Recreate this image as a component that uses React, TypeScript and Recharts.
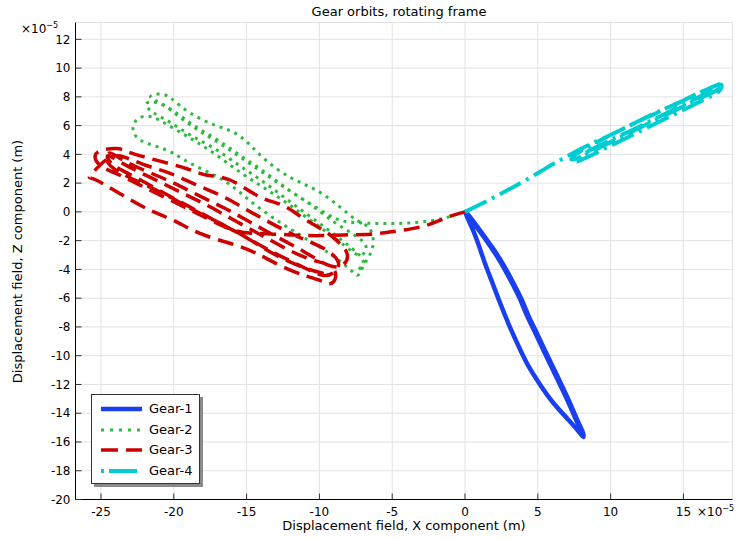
import React from "react";
import { ScatterChart, Scatter, XAxis, YAxis, CartesianGrid } from "recharts";

// axis ticks (values in units of 1e-5 m)
const xTicks = [-25, -20, -15, -10, -5, 0, 5, 10, 15];
const zTicks = [-20, -18, -16, -14, -12, -10, -8, -6, -4, -2, 0, 2, 4, 6, 8, 10, 12];

const gearNames = ["Gear-1", "Gear-2", "Gear-3", "Gear-4"];

// Gear-1 orbit
const gear1X = [0, 0.9, 1.75, 2.5, 3.15, 3.75, 4.25, 4.82, 5.38, 5.95, 6.52, 7.08, 7.6, 7.98, 8.13,
  7.75, 7.05, 6.0, 5.15, 4.4, 3.8, 3.25, 2.75, 2.28, 1.83, 1.38, 0.97, 0.52, 0.05,
  1.0, 1.86, 2.62, 3.27, 3.87, 4.37, 4.94, 5.5, 6.07, 6.64, 7.19, 7.7, 8.06, 8.15];
const gear1Z = [0, -1.2, -2.4, -3.6, -4.8, -6.0, -7.2, -8.4, -9.6, -10.8, -12.0, -13.2, -14.4, -15.2, -15.65,
  -15.2, -14.4, -13.2, -12.0, -10.8, -9.6, -8.4, -7.2, -6.0, -4.8, -3.6, -2.4, -1.2, 0,
  -1.25, -2.45, -3.65, -4.85, -6.05, -7.25, -8.45, -9.65, -10.85, -12.05, -13.25, -14.45, -15.25, -15.6];

// Gear-2 orbit
const gear2X = [0, -1.5, -3, -4.5, -6, -7.5, -8.8,
  -10.2, -11.8, -13.4, -15, -16.6, -18.2, -19.6, -20.8, -21.6, -21.0, -20.2,
  -18.9, -17.1, -15.5, -13.9, -12.0, -10.2, -8.6, -7.4, -6.6, -6.3, -6.5, -7.0, -7.35,
  -7.9, -9.3, -11.1, -12.9, -14.8, -16.6, -18.9, -20.5, -22.3, -22.8, -22.4, -21.5,
  -20.0, -18.5, -17, -15.5, -14, -12.5, -11, -9.5, -8.2, -7.2, -6.8,
  -7.6, -9.0, -10.6, -12.2, -13.8, -15.4, -17.0, -18.6, -20.0, -21.2, -21.9, -21.4,
  -20.2, -18.8, -17.2, -15.6, -14, -12.4, -10.8, -9.2, -7.8, -7.0, -7.3];
const gear2Z = [0, -0.45, -0.7, -0.8, -0.8, -0.75, -0.5,
  0.3, 1.3, 2.4, 3.5, 4.6, 5.6, 6.6, 7.5, 8.0, 8.2, 7.9,
  6.9, 6.0, 5.3, 3.8, 2.4, 1.5, 0.35, -0.6, -1.1, -2.0, -2.9, -3.8, -4.4,
  -4.0, -2.9, -1.75, -0.6, 0.8, 2.2, 3.4, 4.3, 5.0, 5.9, 6.5, 6.6,
  5.8, 4.9, 3.9, 2.8, 1.8, 0.8, -0.3, -1.4, -2.4, -3.0, -2.4,
  -1.6, -0.7, 0.5, 1.6, 2.8, 3.9, 5.0, 6.0, 7.0, 7.6, 7.5, 6.9,
  6.2, 5.3, 4.4, 3.3, 2.2, 1.0, -0.2, -1.4, -2.5, -3.4, -4.0];

// Gear-3 orbit
const gear3X = [0, -1.0, -2.4, -3.8, -5.2, -6.5, -8.3, -10.0, -12.0, -14.0, -15.8,
  -17.8, -19.8, -21.8, -23.6, -25.0, -25.4, -24.9, -23.9, -23.2,
  -22.3, -21.2, -19.1, -17.7, -16.1, -14.1, -12.5, -11.1, -9.7, -8.8, -8.1, -8.4,
  -9.4, -11, -12.8, -14.6, -16.4, -18.2, -20.0, -21.8, -23.5, -24.4, -24.6,
  -23.8, -22.0, -20.2, -18.4, -16.6, -14.8, -13.0, -11.2, -9.8, -9.0, -8.7,
  -9.6, -11.3, -13.1, -14.9, -16.7, -18.5, -20.3, -22.1, -23.8, -24.8, -25.5, -25.8,
  -25.3, -23.5, -21.6, -20.0, -18.2, -16.1, -14.3, -12.0, -10.0, -9.3, -8.9,
  -9.2, -10.6, -12.4, -14.2, -16.0, -17.8, -19.6, -21.4, -23.2, -24.5,
  -24.2, -23.0, -21.0, -19.0, -17.0, -15.0, -13.0, -11.0, -9.6];
const gear3Z = [0, -0.3, -0.85, -1.2, -1.4, -1.55, -1.6, -1.65, -1.6, -1.5, -1.3,
  -0.4, 0.6, 1.6, 2.5, 3.2, 3.9, 4.3, 4.4, 4.2,
  3.9, 3.6, 3.0, 2.55, 2.2, 1.05, 0.45, -0.45, -1.3, -2.0, -2.9, -3.7,
  -3.7, -2.8, -1.8, -0.8, 0.2, 1.1, 2.0, 2.8, 3.6, 4.1, 3.6,
  2.8, 1.9, 1.0, 0.0, -0.9, -1.9, -2.9, -3.8, -4.4, -4.2, -3.5,
  -2.6, -1.8, -0.9, 0.1, 1.1, 1.9, 2.7, 3.3, 3.9, 3.5, 2.8, 2.4,
  2.2, 1.15, 0.1, -0.6, -1.5, -2.2, -2.9, -4.05, -4.75, -5.0, -4.6,
  -3.8, -3.3, -2.5, -1.5, -0.5, 0.5, 1.4, 2.3, 3.2, 3.9,
  3.3, 2.6, 1.5, 0.4, -0.7, -1.8, -3.0, -3.9, -4.3];

// Gear-4 orbit
const gear4X = [0, 1.5, 3.0, 4.5, 6.0, 7.0,
  8, 9, 10, 11, 12, 13, 14, 15, 16, 17, 17.6,
  17.4, 16.5, 15.5, 14.5, 13.5, 12.5, 11.5, 10.5, 9.5, 8.5, 7.6,
  8.2, 9.2, 10.2, 11.2, 12.2, 13.2, 14.2, 15.2, 16.2, 17.2, 17.7,
  17.0, 16, 15, 14, 13, 12, 11, 10, 9, 8, 7.3,
  7.8, 8.8, 9.8, 10.8, 11.8, 12.8, 13.8, 14.8, 15.8, 16.8, 17.5];
const gear4Z = [0, 0.75, 1.55, 2.4, 3.3, 3.85,
  4.4, 4.9, 5.35, 5.85, 6.35, 6.8, 7.3, 7.75, 8.25, 8.7, 8.85,
  8.35, 7.85, 7.35, 6.85, 6.35, 5.85, 5.35, 4.85, 4.35, 3.85, 3.5,
  4.05, 4.6, 5.1, 5.55, 6.05, 6.55, 7.05, 7.55, 8.05, 8.55, 8.75,
  8.3, 7.85, 7.35, 6.85, 6.35, 5.85, 5.35, 4.85, 4.35, 3.85, 3.65,
  4.15, 4.7, 5.25, 5.75, 6.25, 6.75, 7.2, 7.65, 8.15, 8.6, 8.9];

const toPoints = (xs: number[], zs: number[]) => xs.map((x, i) => ({ x, z: zs[i] }));

const series = [
  { name: gearNames[0], data: toPoints(gear1X, gear1Z), color: "#1a3ff0", width: 4.5, dash: undefined as string | undefined, legendDash: undefined as string | undefined },
  { name: gearNames[1], data: toPoints(gear2X, gear2Z), color: "#2fba3f", width: 3, dash: "3 5", legendDash: "3 6" },
  { name: gearNames[2], data: toPoints(gear3X, gear3Z), color: "#cc0000", width: 3.5, dash: "16 8", legendDash: "17 8" },
  { name: gearNames[3], data: toPoints(gear4X, gear4Z), color: "#00cdd2", width: 4, dash: "24 6 3 6", legendDash: "3 5 28 5" },
];

const font = "'DejaVu Sans', sans-serif";
const tickStyle = { fill: "#000", fontSize: 12, fontFamily: font };
const noPoint = () => <g />;

function GearLegend() {
  return (
    <div
      style={{
        position: "absolute",
        left: 91,
        top: 394,
        width: 109,
        height: 90,
        border: "1px solid #333",
        background: "#fff",
        boxShadow: "3px 3px 0 #8a8a8a",
        boxSizing: "border-box",
      }}
    >
      {series.map((s, i) => (
        <div key={s.name} style={{ position: "absolute", left: 0, top: 4 + i * 20.5, height: 20, width: 107 }}>
          <svg width={50} height={20} style={{ position: "absolute", left: 8, top: 0 }}>
            <line x1={1} y1={10} x2={42} y2={10} stroke={s.color} strokeWidth={s.width} strokeDasharray={s.legendDash} />
          </svg>
          <span style={{ position: "absolute", left: 57, top: 2, fontSize: 13, lineHeight: "15px", fontFamily: font, color: "#000" }}>
            {s.name}
          </span>
        </div>
      ))}
    </div>
  );
}

export default function App() {
  return (
    <div style={{ position: "absolute", left: 0, top: 0, width: 736, height: 539, background: "#fff", fontFamily: font }}>
      <ScatterChart width={736} height={539} margin={{ top: 22.5, right: 3.5, bottom: 0, left: 0 }}>
        <CartesianGrid stroke="#e2e2e2" strokeWidth={1} />
        <XAxis
          type="number"
          dataKey="x"
          domain={[-26.75, 18.37]}
          ticks={xTicks}
          allowDataOverflow
          height={39.5}
          tickSize={-6}
          tickMargin={13.5}
          tick={tickStyle}
          axisLine={{ stroke: "#000" }}
          tickLine={{ stroke: "#333" }}
        />
        <XAxis
          xAxisId="top"
          orientation="top"
          type="number"
          domain={[-26.75, 18.37]}
          ticks={xTicks}
          allowDataOverflow
          height={0}
          tickSize={-6}
          tick={false}
          axisLine={{ stroke: "#000" }}
          tickLine={{ stroke: "#333" }}
        />
        <YAxis
          type="number"
          dataKey="z"
          domain={[-20, 13.17]}
          ticks={zTicks}
          allowDataOverflow
          width={75.5}
          tickSize={-6}
          tickMargin={11}
          tick={tickStyle}
          axisLine={{ stroke: "#000" }}
          tickLine={{ stroke: "#333" }}
        />
        <YAxis
          yAxisId="right"
          orientation="right"
          type="number"
          domain={[-20, 13.17]}
          ticks={zTicks}
          allowDataOverflow
          width={0}
          tickSize={-6}
          tick={false}
          axisLine={{ stroke: "#000" }}
          tickLine={{ stroke: "#333" }}
        />
        {series.map((s) => (
          <Scatter
            key={s.name}
            name={s.name}
            data={s.data}
            fill={s.color}
            shape={noPoint}
            line={{ stroke: s.color, strokeWidth: s.width, strokeDasharray: s.dash, strokeLinejoin: "round" }}
            lineType="joint"
            lineJointType="natural"
            isAnimationActive={false}
          />
        ))}
      </ScatterChart>

      <div style={{ position: "absolute", left: 249, top: 4, width: 300, textAlign: "center", fontSize: 13, lineHeight: "15px" }}>
        Gear orbits, rotating frame
      </div>
      <div style={{ position: "absolute", left: 254, top: 519, width: 300, textAlign: "center", fontSize: 13, lineHeight: "14px" }}>
        Displacement field, X component (m)
      </div>
      <div
        style={{
          position: "absolute",
          left: 17 - 150,
          top: 261 - 7,
          width: 300,
          height: 15,
          textAlign: "center",
          fontSize: 13,
          lineHeight: "15px",
          transform: "rotate(-90deg)",
          transformOrigin: "center",
        }}
      >
        Displacement field, Z component (m)
      </div>
      <div style={{ position: "absolute", left: 21, top: 22, fontSize: 12, lineHeight: "14px", whiteSpace: "nowrap" }}>
        ×10<span style={{ fontSize: 8, position: "relative", top: -5 }}>−5</span>
      </div>
      <div style={{ position: "absolute", left: 697, top: 505, fontSize: 12, lineHeight: "14px", whiteSpace: "nowrap" }}>
        ×10<span style={{ fontSize: 8, position: "relative", top: -5 }}>−5</span>
      </div>
      <GearLegend />
    </div>
  );
}
